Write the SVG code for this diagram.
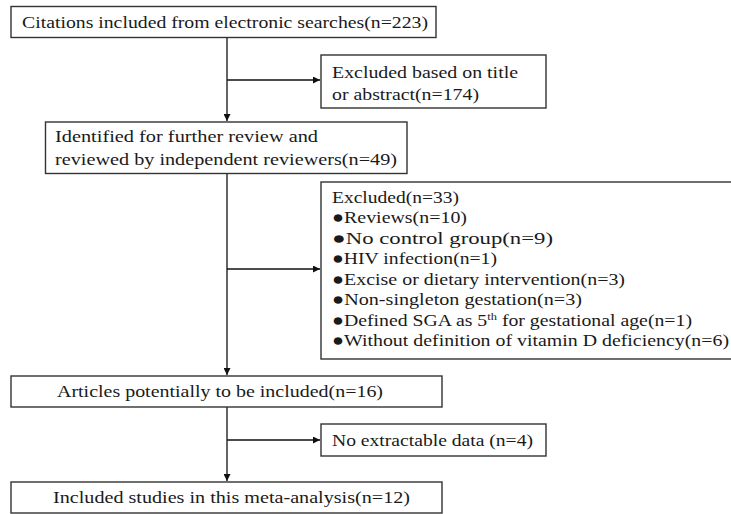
<svg xmlns="http://www.w3.org/2000/svg" width="731" height="514" viewBox="0 0 731 514">
<defs>
<marker id="ah" viewBox="0 0 10 10" refX="10" refY="5" markerWidth="9" markerHeight="7" markerUnits="userSpaceOnUse" orient="auto">
<path d="M0,0 L10,5 L0,10 z" fill="#111"/>
</marker>
</defs>
<style>
.box{fill:#fff;stroke:#333;stroke-width:1.4}
.t{font-family:"Liberation Serif","DejaVu Serif",serif;font-size:17.5px;fill:#1a1a1a}
.c{fill:none;stroke:#111;stroke-width:1.3}
</style>
<rect width="731" height="514" fill="#fff"/>
<g id="connectors">
<path class="c" d="M227,37.5 V121" marker-end="url(#ah)"/>
<path class="c" d="M227,80 H320" marker-end="url(#ah)"/>
<path class="c" d="M227,173.5 V375" marker-end="url(#ah)"/>
<path class="c" d="M227,269 H320" marker-end="url(#ah)"/>
<path class="c" d="M227,407 V481" marker-end="url(#ah)"/>
<path class="c" d="M227,440 H320" marker-end="url(#ah)"/>
</g>
<g id="n1">
<rect class="box" x="11" y="6.5" width="425" height="31"/>
<text class="t" x="22" y="28" textLength="406" lengthAdjust="spacingAndGlyphs">Citations included from electronic searches(n=223)</text>
</g>
<g id="n2">
<rect class="box" x="321" y="55" width="225" height="53"/>
<text class="t" x="332" y="77.5" textLength="186" lengthAdjust="spacingAndGlyphs">Excluded based on title</text>
<text class="t" x="332" y="100" textLength="147" lengthAdjust="spacingAndGlyphs">or abstract(n=174)</text>
</g>
<g id="n3">
<rect class="box" x="45.5" y="122" width="361.5" height="51.5"/>
<text class="t" x="55" y="142" textLength="263" lengthAdjust="spacingAndGlyphs">Identified for further review and</text>
<text class="t" x="55" y="164.5" textLength="342" lengthAdjust="spacingAndGlyphs">reviewed by independent reviewers(n=49)</text>
</g>
<g id="n4">
<rect class="box" x="321" y="182" width="411" height="177"/>
<text class="t" x="332" y="202.5" textLength="127" lengthAdjust="spacingAndGlyphs">Excluded(n=33)</text>
<text class="t" x="332" y="223" textLength="135" lengthAdjust="spacingAndGlyphs">●Reviews(n=10)</text>
<text class="t" x="332" y="243.5" textLength="221" lengthAdjust="spacingAndGlyphs">●No control group(n=9)</text>
<text class="t" x="332" y="264" textLength="165" lengthAdjust="spacingAndGlyphs">●HIV infection(n=1)</text>
<text class="t" x="332" y="284.5" textLength="293" lengthAdjust="spacingAndGlyphs">●Excise or dietary intervention(n=3)</text>
<text class="t" x="332" y="305" textLength="250" lengthAdjust="spacingAndGlyphs">●Non-singleton gestation(n=3)</text>
<text class="t" x="332" y="325.5" textLength="360" lengthAdjust="spacingAndGlyphs">●Defined SGA as 5<tspan font-size="11" dy="-6">th</tspan><tspan dy="6"> for gestational age(n=1)</tspan></text>
<text class="t" x="332" y="346" textLength="397" lengthAdjust="spacingAndGlyphs">●Without definition of vitamin D deficiency(n=6)</text>
</g>
<g id="n5">
<rect class="box" x="11" y="376" width="431" height="31"/>
<text class="t" x="57" y="396.5" textLength="326" lengthAdjust="spacingAndGlyphs">Articles potentially to be included(n=16)</text>
</g>
<g id="n6">
<rect class="box" x="321" y="424" width="225" height="32"/>
<text class="t" x="332" y="445.5" textLength="201" lengthAdjust="spacingAndGlyphs">No extractable data (n=4)</text>
</g>
<g id="n7">
<rect class="box" x="11" y="482" width="431" height="31"/>
<text class="t" x="53" y="502.5" textLength="357" lengthAdjust="spacingAndGlyphs">Included studies in this meta-analysis(n=12)</text>
</g>
</svg>
